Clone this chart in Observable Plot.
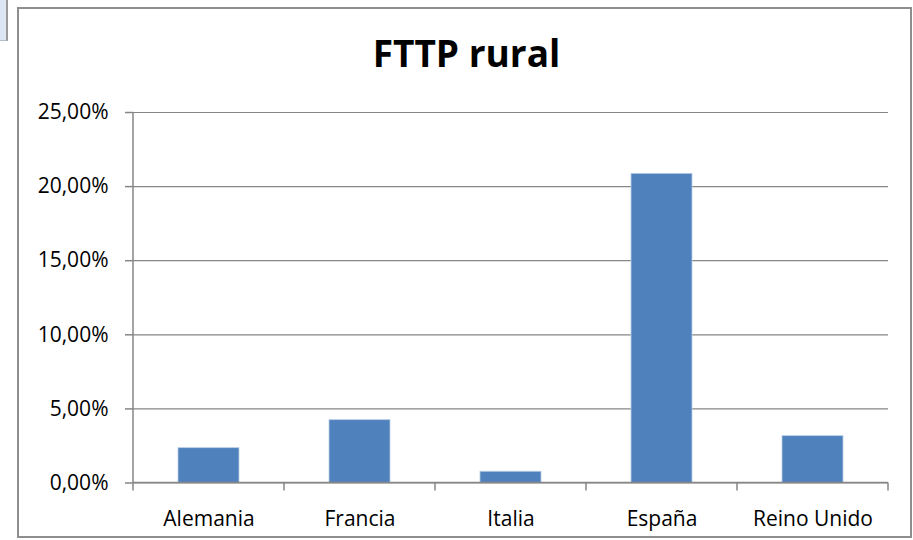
<!DOCTYPE html>
<html><head><meta charset="utf-8">
<script src="https://cdn.jsdelivr.net/npm/d3@7"></script>
<script src="https://cdn.jsdelivr.net/npm/@observablehq/plot@0.6"></script>
<style>
body{margin:0;background:#fff;}
#wrap{position:relative;width:913px;height:540px;overflow:hidden;font-family:"Open Sans","Noto Sans",sans-serif;}
#frame{position:absolute;left:17px;top:7px;width:895px;height:531px;box-sizing:border-box;border:2px solid #8e8e8e;}
#strip{position:absolute;left:0;top:0;width:8px;height:41px;box-sizing:border-box;background:#dde7f3;border-right:2px solid #9a9a9a;border-bottom:1px solid #b5bfcc;}
#title{position:absolute;left:0;width:933px;top:31px;text-align:center;font-weight:bold;font-size:37px;color:#000;line-height:44px;}
#chart{position:absolute;left:0;top:0;}
</style></head><body>
<div id="wrap">
<div id="strip"></div>
<div id="frame"></div>
<div id="chart"></div>
<div id="title">FTTP rural</div>
</div>
<script>
const categories = ["Alemania", "Francia", "Italia", "España", "Reino Unido"];
const values = [0.0235, 0.0424, 0.0076, 0.2086, 0.0316];
const yTicks = [0, 0.05, 0.10, 0.15, 0.20, 0.25];

const data = categories.map((c, i) => ({country: c, value: values[i]}));
const fmt = d => (d * 100).toFixed(2).replace(".", ",") + "%";
const axisColor = "#868686";

const boundaryTicks = (index, scales, values, dimensions) => {
  const g = d3.create("svg:g");
  const x = scales.x, y = scales.y;
  const y0 = y(0);
  const left = dimensions.marginLeft, right = dimensions.width - dimensions.marginRight;
  const xs = categories.map(c => x(c)).concat([x(categories[categories.length - 1]) + x.bandwidth()]);
  g.selectAll("line.t").data(xs).join("line")
    .attr("x1", d => d).attr("x2", d => d)
    .attr("y1", y0).attr("y2", y0 + 8)
    .attr("stroke", axisColor).attr("stroke-width", 1.5);
  g.append("line").attr("x1", left).attr("x2", left)
    .attr("y1", y(yTicks[yTicks.length - 1])).attr("y2", y0)
    .attr("stroke", axisColor).attr("stroke-width", 1.5);
  g.append("line").attr("x1", left).attr("x2", right)
    .attr("y1", y0).attr("y2", y0)
    .attr("stroke", axisColor).attr("stroke-width", 1.5);
  return g.node();
};

const chart = Plot.plot({
  width: 913,
  height: 540,
  marginLeft: 133,
  marginRight: 25,
  marginTop: 112,
  marginBottom: 57.5,
  style: {fontFamily: "'Open Sans', 'Noto Sans', sans-serif", color: "#000", background: "transparent"},
  x: {domain: categories, padding: 0, label: null},
  y: {domain: [0, 0.25], label: null},
  marks: [
    Plot.gridY(yTicks, {stroke: axisColor, strokeOpacity: 1, strokeWidth: 1.2}),
    Plot.barY(data, {x: "country", y: "value", fill: "#4f81bd", stroke: "#b9cde5", strokeWidth: 0.8, insetLeft: 45, insetRight: 45}),
    Plot.axisY(yTicks, {tickFormat: fmt, tickSize: 8, tickPadding: 17, fontSize: 21, stroke: axisColor, strokeWidth: 1.5, fill: "#000", fontWeight: 400, label: null}),
    Plot.axisX({tickSize: 0, tickPadding: 28, fontSize: 21, fill: "#000", fontWeight: 400, label: null}),
    boundaryTicks
  ]
});
document.getElementById("chart").appendChild(chart);
</script>
</body></html>
